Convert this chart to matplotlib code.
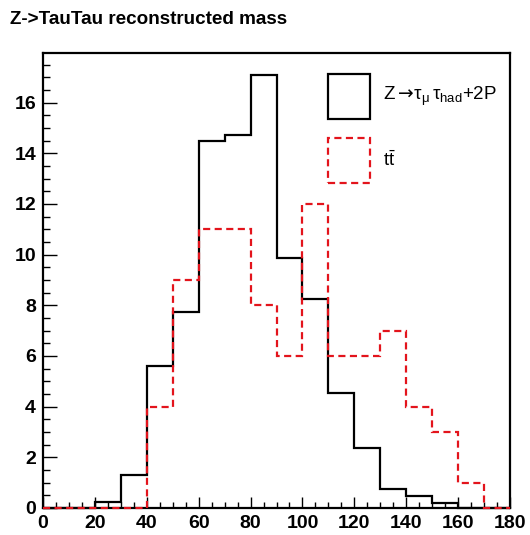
import numpy as np
import matplotlib
matplotlib.use("Agg")
import matplotlib.pyplot as plt
from matplotlib.patches import Rectangle
from matplotlib.ticker import MultipleLocator

plt.rcParams['font.family'] = ['Liberation Sans', 'DejaVu Sans']
plt.rcParams['mathtext.fontset'] = 'custom'
plt.rcParams['mathtext.rm'] = 'Liberation Sans'
plt.rcParams['mathtext.it'] = 'Liberation Sans'
plt.rcParams['mathtext.sf'] = 'DejaVu Sans'
plt.rcParams['mathtext.default'] = 'regular'

# Reconstructed mass histograms, 10-unit bins from 0 to 180
bin_edges = np.arange(0, 190, 10)
z_tautau = [0, 0, 0.25, 1.3, 5.6, 7.75, 14.48, 14.72, 17.1, 9.88,
            8.25, 4.53, 2.36, 0.75, 0.49, 0.21, 0, 0]
ttbar = [0, 0, 0, 0, 4, 9, 11, 11, 8, 6, 12, 6, 6, 7, 4, 3, 1, 0]

title = "Z->TauTau reconstructed mass"
label_z = r"Z$\mathsf{\rightarrow}\!\tau_{\mu}\,\tau_{had}$+2P"
label_tt = r"$t\bar{t}$"

W, H = 530, 535
fig = plt.figure(figsize=(W / 100, H / 100), dpi=100)
x0, x1, y0, y1 = 43, 510, 508, 53
ax = fig.add_axes([x0 / W, 1 - y0 / H, (x1 - x0) / W, (y0 - y1) / H])

red = '#e3141c'
dash = (0, (3.2, 2.0))
lw = 1.6
ax.stairs(z_tautau, bin_edges, baseline=0, color='black', lw=lw,
          zorder=3, clip_on=False)
ax.stairs(ttbar, bin_edges, baseline=0, color=red, lw=lw,
          linestyle=dash, zorder=4, clip_on=False)

ax.set_xlim(0, 180)
ax.set_ylim(0, 17.96)
ax.xaxis.set_major_locator(MultipleLocator(20))
ax.xaxis.set_minor_locator(MultipleLocator(5))
ax.yaxis.set_major_locator(MultipleLocator(2))
ax.yaxis.set_minor_locator(MultipleLocator(0.5))
ax.tick_params(which='both', direction='in', top=False, right=False,
               width=1.0, color='black')
ax.tick_params(axis='x', which='major', length=8, pad=5)
ax.tick_params(axis='x', which='minor', length=4)
ax.tick_params(axis='y', which='major', length=10, pad=5)
ax.tick_params(axis='y', which='minor', length=5)
for lab in ax.get_xticklabels() + ax.get_yticklabels():
    lab.set_fontweight('bold')
    lab.set_fontsize(14)
for sp in ax.spines.values():
    sp.set_linewidth(1.6)

fig.text(10 / W, 1 - 19 / H, title, ha='left', va='center',
         fontsize=13.6, fontweight='bold')


# Legend: outlined boxes with labels, placed in axes fraction units
def ax_frac(px, py):
    return (px - x0) / (x1 - x0), (y0 - py) / (y0 - y1)


entries = [(label_z, dict(edgecolor='black', linestyle='solid'), 74, 119),
           (label_tt, dict(edgecolor=red, linestyle=dash), 138, 183)]
for text, style, top, bottom in entries:
    bx, by = ax_frac(328, bottom)
    bw = 42 / (x1 - x0)
    bh = (bottom - top) / (y0 - y1)
    ax.add_patch(Rectangle((bx, by), bw, bh, transform=ax.transAxes,
                           facecolor='none', lw=lw, zorder=5, **style))
    tx, ty = ax_frac(383, (top + bottom) / 2)
    ax.text(tx, ty, text, transform=ax.transAxes, ha='left', va='center',
            fontsize=13.5, zorder=5)

fig.savefig("out.png", dpi=100)
